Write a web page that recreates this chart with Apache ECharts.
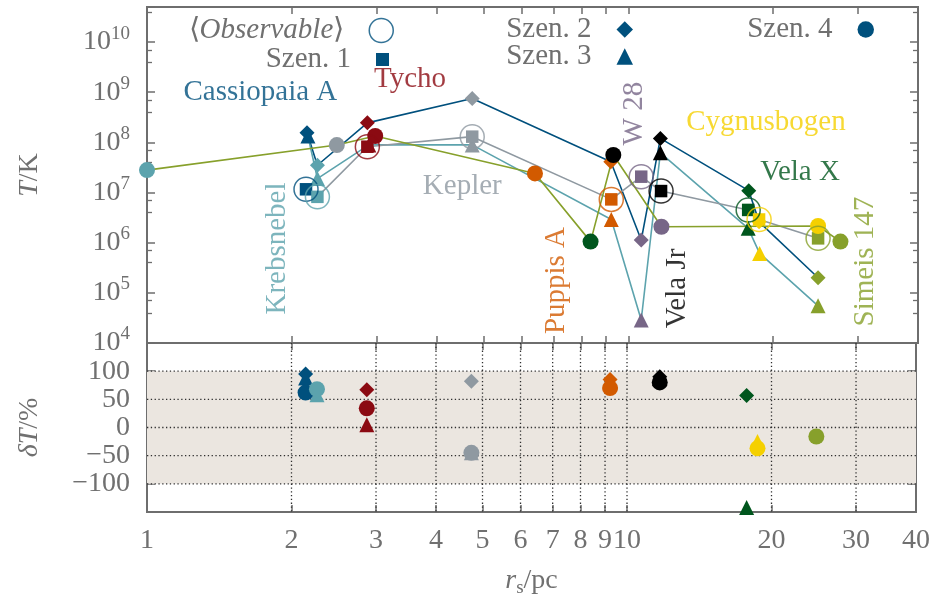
<!DOCTYPE html>
<html><head><meta charset="utf-8">
<script src="https://cdn.jsdelivr.net/npm/echarts@6/dist/echarts.min.js"></script>
<style>html,body{margin:0;padding:0;background:#fff}#c{width:933px;height:603px}</style>
</head><body><div id="c"></div>
<script>
// ---------- data ----------
const snrNames  = ['Cassiopaia A','Krebsnebel','Tycho','Kepler','Puppis A','W 28','Vela Jr','Vela X','Cygnusbogen','Simeis 147'];
const snrColors = ['#00507d','#5ca3ad','#8b0a12','#8f99a1','#d25a00','#776687','#000000','#00561d','#f5d000','#87a02b'];

// observable (open circles) and scenario 1 (squares), index = SNR
const obsR = [2.14, 2.26, 2.87, 4.74, 9.22, 10.64, 11.70, 17.75, 18.70, 24.8];
const obsT = [1.16e7, 8.2e6, 8.2e7, 1.3e8, 7.3e6, 2.07e7, 1.07e7, 4.5e6, 2.9e6, 1.22e6];
const s1R  = [2.14, 2.26, 2.87, 4.74, 9.22, 10.64, 11.70, 17.75, 18.70, 24.8];
const s1T  = [1.16e7, 8.2e6, 8.2e7, 1.3e8, 7.3e6, 2.07e7, 1.07e7, 4.5e6, 2.9e6, 1.22e6];
// scenario 2 (diamonds)
const s2R  = [2.15, 2.26, 2.87, 4.74, 9.20, 10.64, 11.66, 17.80, 18.70, 24.8];
const s2T  = [1.55e8, 3.5e7, 2.45e8, 7.5e8, 4.1e7, 1.13e6, 1.2e8, 1.09e7, 2.6e6, 2.0e5];
// scenario 3 (triangles)
const s3R  = [2.16, 2.26, 2.89, 4.74, 9.22, 10.64, 11.66, 17.75, 18.75, 24.8];
const s3T  = [1.34e8, 1.9e7, 8.9e7, 8.9e7, 2.9e6, 2.87e4, 6.2e7, 1.93e6, 6.1e5, 5.5e4];
// scenario 4 (filled circles), with SNR index
const s4Idx = [1, 3, 2, 4, 7, 6, 5, 8, 9];
const s4R   = [1.0, 2.48, 2.98, 6.4, 8.35, 9.31, 11.72, 24.8, 27.6];
const s4T   = [2.8e7, 8.85e7, 1.34e8, 2.4e7, 1.05e6, 5.6e7, 2.08e6, 2.15e6, 1.05e6];

// deviations deltaT in % (lower panel), x = observed radius of SNR
const d2Idx = [0, 2, 3, 4, 6, 7];
const d2Val = [95, 67, 82, 85, 90, 57];
const d3Idx = [0, 1, 2, 3, 4, 6, 7, 8];
const d3Val = [88, 58, 5, -45, 80, 87, -142, -25];
const d4Idx = [0, 1, 2, 3, 4, 6, 8, 9];
const d4Val = [62, 68, 34, -45, 70, 80, -37, -16];

// tick values
const xLabelVals = [1,2,3,4,5,6,7,8,9,10,20,30,40];
const xTickVals  = [2,3,4,5,6,7,8,9,10,20,30];
const dVals      = [-100,-50,0,50,100];
const bandRange  = [-100, 100];

// annotation anchors (data coordinates)
const labelX   = [1.72, 1.867, 3.52, 4.52, 7.09, 10.29, 12.67, 22.75, 19.32, 31.1];
const labelT   = [1.0e9, 7.66e5, 1.83e9, 1.35e7, 1.76e5, 3.75e8, 1.22e5, 2.56e7, 2.54e8, 4.2e5];
const labelRot = [0, 90, 0, 0, 90, 90, 90, 0, 0, 90];

// ---------- styles ----------
const AX = '#6e6e6e', TX = '#707070', FONT = 'Liberation Serif', MAIN = '#00507d', BAND = '#ebe6e0';
const LINE = {s1:'#8f99a1', s2:'#00507d', s3:'#5ca3ad', s4:'#87a02b'};
const SZ = {obs:24, sq:12.5, dia:15, tri:15, cir:16};
const DOT = {stroke:'#2f2f2f', lineWidth:1.3, lineDash:[1.3, 2.5]};

const rt = (extra) => Object.assign({color:TX, fontFamily:FONT, fontSize:28, lineHeight:34}, extra||{});
const richName = {
  i: rt({fontStyle:'italic'}),
  n: rt(),
  s: rt({fontSize:19, lineHeight:22, verticalAlign:'bottom'})
};

function xAx(grid, pos, showLabel) {
  return {
    type:'log', logBase:10, min:1, max:40, gridIndex:grid, position:pos,
    axisLine:{show:false, onZero:false},
    axisTick:{show:true, inside:true, length:7, customValues:xTickVals, lineStyle:{color:AX, width:1.5}},
    axisLabel:{show:showLabel, customValues:xLabelVals, interval:0, hideOverlap:false, margin:15,
      color:TX, fontFamily:FONT, fontSize:28, formatter: v => String(Math.round(v))},
    splitLine:{show:false},
    name: showLabel ? '{i|r}{s|s}{n|/pc}' : '', nameLocation:'middle', nameGap:52,
    nameTextStyle:{rich:richName}
  };
}
function yLog(pos, showLabel) {
  return {
    type:'log', logBase:10, min:1e4, max:5e10, gridIndex:0, position:pos,
    axisLine:{show:false, onZero:false},
    axisTick:{show:true, inside:true, length:8, lineStyle:{color:AX, width:1.5}},
    minorTick:{show:true, splitNumber:3, length:5, lineStyle:{color:AX, width:1.3}},
    splitLine:{show:false},
    axisLabel:{show:showLabel, margin:17, hideOverlap:false,
      formatter: v => { const e = Math.round(Math.log10(v));
        return Math.abs(v/Math.pow(10,e) - 1) < 1e-6 ? '{b|10}{p|' + e + '}' : ''; },
      rich:{ b: rt({lineHeight:36}), p: rt({fontSize:19, lineHeight:20, verticalAlign:'top'}) }},
    name: showLabel ? '{i|T}{n|/K}' : '', nameLocation:'middle', nameRotate:90, nameGap:100,
    nameTextStyle:{rich:richName}
  };
}
function yLin(pos, showLabel) {
  return {
    type:'value', min:-150, max:150, gridIndex:1, position:pos,
    axisLine:{show:false, onZero:false},
    axisTick:{show:true, inside:true, length:8, customValues:dVals, lineStyle:{color:AX, width:1.5}},
    axisLabel:{show:showLabel, customValues:dVals, margin:17, color:TX, fontFamily:FONT, fontSize:28,
      formatter: v => v < 0 ? '\u2212' + (-v) : String(v)},
    splitLine:{show:false},
    name: showLabel ? '{i|δT}{n|/%}' : '', nameLocation:'middle', nameRotate:90, nameGap:100,
    nameTextStyle:{rich:richName}
  };
}

function pts(R, T, idx) {
  return R.map((r, k) => ({value:[r, T[k]], itemStyle:{color: snrColors[idx ? idx[k] : k]}}));
}
function lineSeries(name, R, T, idx, symbol, size, lc) {
  return {type:'line', name, xAxisIndex:0, yAxisIndex:0, symbol, symbolSize:size, showAllSymbol:true,
    lineStyle:{color:lc, width:1.6}, itemStyle:{color:MAIN}, emphasis:{disabled:true}, silent:true,
    data: pts(R, T, idx)};
}
function devSeries(name, idx, val, symbol, size) {
  return {type:'scatter', name, xAxisIndex:2, yAxisIndex:2, symbol, symbolSize:size,
    itemStyle:{color:MAIN, opacity:1}, emphasis:{disabled:true}, silent:true, z:6,
    data: idx.map((i, k) => ({value:[obsR[i], val[k]], itemStyle:{color:snrColors[i]}}))};
}

function legend(name, icon, size, right, top, istyle) {
  return {
    show:true, data:[{name, icon, itemStyle:istyle}], right, top, orient:'horizontal', align:'right',
    itemWidth:size, itemHeight:size, padding:0, selectedMode:false,
    formatter: n => n === 'Observable' ? '{u|\u27E8}{i|Observable}{u|\u27E9}{g| }' : '{t|' + n + '}{g| }',
    textStyle:{color:TX, fontFamily:FONT, fontSize:29, rich:{
      u:{color:TX, fontFamily:FONT, fontSize:29}, i:{color:TX, fontFamily:FONT, fontSize:29, fontStyle:'italic'},
      t:{color:TX, fontFamily:FONT, fontSize:29}, g:{width:20, fontSize:29}}}
  };
}

// band (-100..100) and dotted reference grid of the lower panel, placed via the axes' scales
function renderPanel(params, api) {
  const cs = params.coordSys;
  const yTop = api.coord([1, bandRange[1]])[1], yBot = api.coord([1, bandRange[0]])[1];
  const children = [{type:'rect', shape:{x:cs.x, y:yTop, width:cs.width, height:yBot - yTop}, style:{fill:BAND}}];
  xTickVals.forEach(v => { const x = api.coord([v, 0])[0];
    children.push({type:'line', shape:{x1:x, y1:cs.y, x2:x, y2:cs.y + cs.height}, style:Object.assign({}, DOT)}); });
  dVals.forEach(v => { const y = api.coord([1, v])[1];
    children.push({type:'line', shape:{x1:cs.x, y1:y, x2:cs.x + cs.width, y2:y}, style:Object.assign({}, DOT)}); });
  return {type:'group', children};
}

const chart = echarts.init(document.getElementById('c'), null, {renderer:'canvas'});
chart.setOption({
  animation:false,
  backgroundColor:'#fff',
  grid:[
    {left:147, right:15, top:7, height:336, show:true, borderColor:AX, borderWidth:2, backgroundColor:'transparent'},
    {left:147, right:15, top:343, height:169, show:true, borderColor:AX, borderWidth:2, backgroundColor:'transparent'}
  ],
  xAxis:[ xAx(0,'bottom',false), xAx(0,'top',false), xAx(1,'bottom',true), xAx(1,'top',false) ],
  yAxis:[ yLog('left',true), yLog('right',false), yLin('left',true), yLin('right',false) ],
  legend:[
    legend('Observable','circle',SZ.obs,539,16,{color:'rgba(255,255,255,0)', borderColor:MAIN, borderWidth:1.5}),
    legend('Szen. 1','rect',13,544,45,{color:MAIN}),
    legend('Szen. 2','diamond',16.5,300,15,{color:MAIN}),
    legend('Szen. 3','triangle',16.5,300,42,{color:MAIN}),
    legend('Szen. 4','circle',16.5,59,15,{color:MAIN})
  ],
  series:[
    {type:'custom', name:'panel', xAxisIndex:2, yAxisIndex:2, z:1, silent:true, clip:true,
      renderItem:renderPanel, data:[[1, 0]]},
    lineSeries('Szen. 2', s2R, s2T, null, 'diamond', SZ.dia, LINE.s2),
    lineSeries('Szen. 3', s3R, s3T, null, 'triangle', SZ.tri, LINE.s3),
    lineSeries('Szen. 1', s1R, s1T, null, 'rect', SZ.sq, LINE.s1),
    lineSeries('Szen. 4', s4R, s4T, s4Idx, 'circle', SZ.cir, LINE.s4),
    {type:'scatter', name:'Observable', xAxisIndex:0, yAxisIndex:0, symbol:'circle', symbolSize:SZ.obs,
      itemStyle:{color:'rgba(255,255,255,0)', borderColor:MAIN, borderWidth:1.5}, emphasis:{disabled:true}, silent:true, z:3,
      data: obsR.map((r, i) => ({value:[r, obsT[i]], itemStyle:{color:'rgba(255,255,255,0)', borderColor:snrColors[i], borderWidth:1.5}}))},
    {type:'scatter', name:'labels', xAxisIndex:0, yAxisIndex:0, symbolSize:1, silent:true, z:4,
      itemStyle:{color:'rgba(0,0,0,0)'},
      label:{show:true, position:'inside', formatter:'{b}', fontFamily:FONT, fontSize:29},
      data: snrNames.map((n, i) => ({name:n, value:[labelX[i], labelT[i]], label:{rotate:labelRot[i], color:snrColors[i]}}))},
    devSeries('d2', d2Idx, d2Val, 'diamond', SZ.dia),
    devSeries('d3', d3Idx, d3Val, 'triangle', SZ.tri),
    devSeries('d4', d4Idx, d4Val, 'circle', SZ.cir)
  ]
});
</script></body></html>
